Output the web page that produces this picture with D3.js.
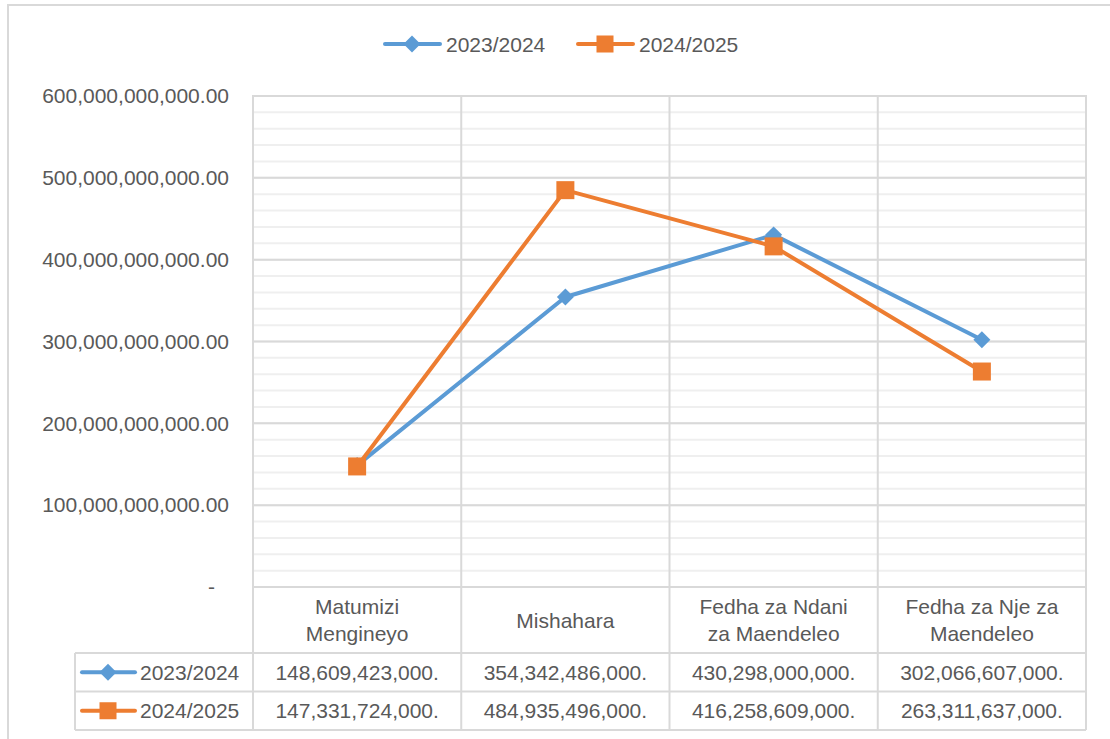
<!DOCTYPE html>
<html>
<head>
<meta charset="utf-8">
<script src="https://cdn.jsdelivr.net/npm/d3@7"></script>
<style>
  body { margin: 0; background: #fff; }
  text { font-family: "Liberation Sans", Arial, sans-serif; fill: #595959; }
</style>
</head>
<body>
<svg></svg>
<script>
// chart data
let categories = [["Matumizi", "Mengineyo"], ["Mishahara"], ["Fedha za Ndani", "za Maendeleo"], ["Fedha za Nje za", "Maendeleo"]]
let seriesNames = ["2023/2024", "2024/2025"]
let values2324 = [148609423000, 354342486000, 430298000000, 302066607000]
let values2425 = [147331724000, 484935496000, 416258609000, 263311637000]
let yTicks = [0, 100e9, 200e9, 300e9, 400e9, 500e9, 600e9]

let colors = ["#5B9BD5", "#ED7D31"]
let series = [values2324, values2425]

let width = 1110
let height = 739
let fontSize = 21

// plot area
let plotLeft = 253
let plotRight = 1086
let plotTop = 96
let plotBottom = 587
let headerBottom = 653
let rowH = 38.5

let svg = d3.select('svg')
    .attr('width', width)
    .attr('height', height)

// outer chart border
svg.append('rect')
   .attr('x', 8).attr('y', 5)
   .attr('width', width + 20).attr('height', height + 20)
   .attr('fill', 'none')
   .attr('stroke', '#D9D9D9')
   .attr('stroke-width', 2)

let xScale = d3.scaleBand()
               .domain(d3.range(categories.length))
               .range([plotLeft, plotRight])

let yScale = d3.scaleLinear()
               .domain([0, 600e9])
               .range([plotBottom, plotTop])

// minor gridlines every 20 billion
let minor = d3.range(0, 600e9 + 1, 20e9)
svg.append('g')
   .selectAll('line')
   .data(minor)
   .enter()
   .append('line')
   .attr('x1', plotLeft).attr('x2', plotRight)
   .attr('y1', d => yScale(d)).attr('y2', d => yScale(d))
   .attr('stroke', '#EFEFEF')
   .attr('stroke-width', 2)

// major gridlines
svg.append('g')
   .selectAll('line')
   .data(yTicks)
   .enter()
   .append('line')
   .attr('x1', plotLeft).attr('x2', plotRight)
   .attr('y1', d => yScale(d)).attr('y2', d => yScale(d))
   .attr('stroke', '#D9D9D9')
   .attr('stroke-width', 2)

// vertical lines between categories, running down through the table
let bounds = d3.range(categories.length + 1).map(i => i < categories.length ? xScale(i) : plotRight)
svg.append('g')
   .selectAll('line')
   .data(bounds)
   .enter()
   .append('line')
   .attr('x1', d => d).attr('x2', d => d)
   .attr('y1', plotTop - 1).attr('y2', headerBottom + 2 * rowH)
   .attr('stroke', '#D9D9D9')
   .attr('stroke-width', 2)

// table rows
let rowLines = [headerBottom, headerBottom + rowH, headerBottom + 2 * rowH]
svg.append('g')
   .selectAll('line')
   .data(rowLines)
   .enter()
   .append('line')
   .attr('x1', 75).attr('x2', plotRight)
   .attr('y1', d => d).attr('y2', d => d)
   .attr('stroke', '#D9D9D9')
   .attr('stroke-width', 2)

svg.append('line')
   .attr('x1', 75).attr('x2', 75)
   .attr('y1', headerBottom).attr('y2', headerBottom + 2 * rowH)
   .attr('stroke', '#D9D9D9')
   .attr('stroke-width', 2)

// y axis labels
let yAxis = d3.axisLeft(yScale)
              .tickValues(yTicks)
              .tickSize(0)
              .tickPadding(0)
              .tickFormat(d => d === 0 ? '-' : d3.format(',.2f')(d))

let yg = svg.append('g')
   .attr('transform', 'translate(229, 0)')
   .call(yAxis)
yg.select('.domain').remove()
yg.selectAll('text')
  .attr('font-size', fontSize)
  .attr('fill', '#595959')
  .style('font-family', '"Liberation Sans", Arial, sans-serif')
  .attr('dx', d => d === 0 ? -14 : 0)

// category labels in the table header
let catG = svg.append('g')
categories.forEach((lines, i) => {
    let cx = xScale(i) + xScale.bandwidth() / 2
    let cy = (plotBottom + headerBottom) / 2
    lines.forEach((t, j) => {
        catG.append('text')
            .attr('x', cx)
            .attr('y', cy + (j - (lines.length - 1) / 2) * 27)
            .attr('text-anchor', 'middle')
            .attr('dominant-baseline', 'central')
            .attr('font-size', fontSize)
            .text(t)
    })
})

// markers
let drawMarker = (g, s, x, y, size) => {
    if (s === 0) {
        g.append('rect')
         .attr('x', x - size / 2).attr('y', y - size / 2)
         .attr('width', size).attr('height', size)
         .attr('transform', 'rotate(45,' + x + ',' + y + ')')
         .attr('fill', colors[s])
    } else {
        g.append('rect')
         .attr('x', x - size / 2 - 1).attr('y', y - size / 2 - 1)
         .attr('width', size + 2).attr('height', size + 2)
         .attr('fill', colors[s])
    }
}

// data table values and legend keys
let fmt = d => d3.format(',')(d) + '.'
series.forEach((vals, s) => {
    let cy = headerBottom + rowH * s + rowH / 2
    let g = svg.append('g')
    g.append('line')
     .attr('x1', 82).attr('x2', 135)
     .attr('y1', cy).attr('y2', cy)
     .attr('stroke', colors[s])
     .attr('stroke-width', 4)
     .attr('stroke-linecap', 'round')
    drawMarker(g, s, 108, cy, s === 0 ? 12 : 15)
    g.append('text')
     .attr('x', 140).attr('y', cy)
     .attr('dominant-baseline', 'central')
     .attr('font-size', fontSize)
     .text(seriesNames[s])
    vals.forEach((v, i) => {
        g.append('text')
         .attr('x', xScale(i) + xScale.bandwidth() / 2)
         .attr('y', cy)
         .attr('text-anchor', 'middle')
         .attr('dominant-baseline', 'central')
         .attr('font-size', fontSize)
         .text(fmt(v))
    })
})

// lines
let line = d3.line()
             .x((d, i) => xScale(i) + xScale.bandwidth() / 2)
             .y(d => yScale(d))

series.forEach((vals, s) => {
    svg.append('path')
       .datum(vals)
       .attr('d', line)
       .attr('fill', 'none')
       .attr('stroke', colors[s])
       .attr('stroke-width', 4)
       .attr('stroke-linejoin', 'round')
       .attr('stroke-linecap', 'round')
    let mg = svg.append('g')
    vals.forEach((v, i) => {
        drawMarker(mg, s, xScale(i) + xScale.bandwidth() / 2, yScale(v), s === 0 ? 12 : 16)
    })
})

// legend at top
let legendItems = [{x: 385, s: 0}, {x: 578, s: 1}]
legendItems.forEach(item => {
    let g = svg.append('g')
    g.append('line')
     .attr('x1', item.x).attr('x2', item.x + 55)
     .attr('y1', 44).attr('y2', 44)
     .attr('stroke', colors[item.s])
     .attr('stroke-width', 4)
     .attr('stroke-linecap', 'round')
    drawMarker(g, item.s, item.x + 27, 44, item.s === 0 ? 12 : 15)
    g.append('text')
     .attr('x', item.x + 61).attr('y', 44)
     .attr('dominant-baseline', 'central')
     .attr('font-size', fontSize)
     .text(seriesNames[item.s])
})
</script>
</body>
</html>
